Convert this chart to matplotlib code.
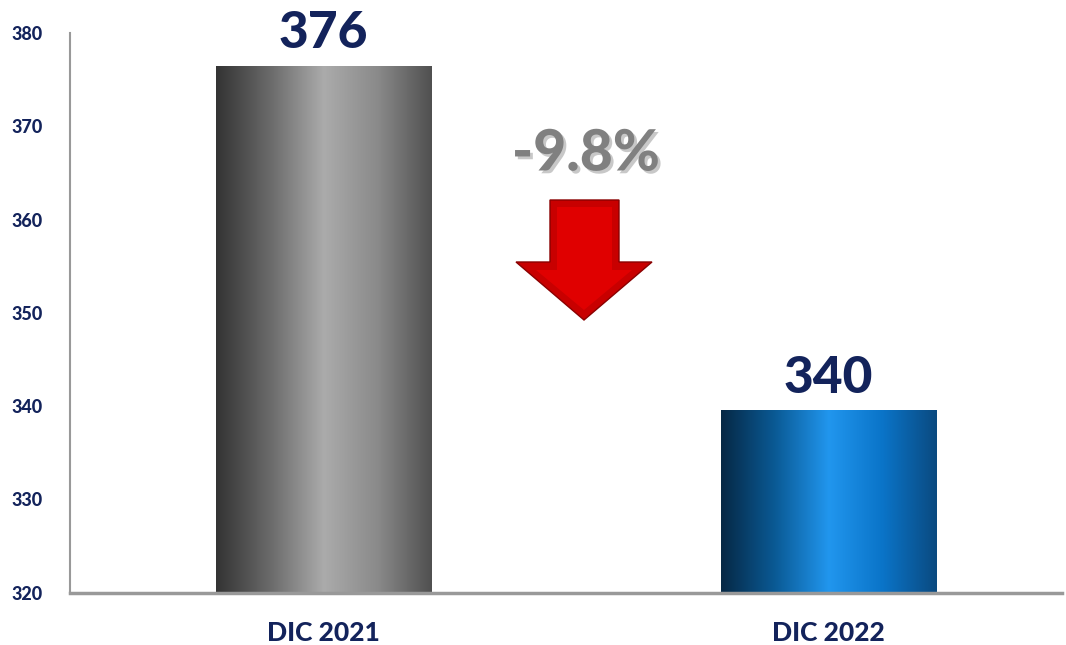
import numpy as np
import matplotlib
matplotlib.use("Agg")
from matplotlib import pyplot as plt
from matplotlib.colors import LinearSegmentedColormap
from matplotlib.patches import Polygon
import matplotlib.patheffects as pe

plt.rcParams['font.family'] = ['Lato', 'DejaVu Sans']

categories = ["DIC 2021", "DIC 2022"]
values = [376.5, 339.6]
value_labels = ["376", "340"]
change_label = "-9.8%"
yticks = [320, 330, 340, 350, 360, 370, 380]

navy = "#13235b"
grey_cm = LinearSegmentedColormap.from_list("g", ["#333333", "#6a6a6a", "#ababab", "#8a8a8a", "#505050"])
blue_cm = LinearSegmentedColormap.from_list("b", ["#062845", "#0a5a95", "#2196ee", "#0a74c8", "#0a4a80"])

fig = plt.figure(figsize=(10.66, 6.45), dpi=100)
ax = fig.add_axes([0.066, 0.081, 0.93, 0.868])

width = 0.426
grad = np.linspace(0, 1, 256).reshape(1, -1)
for i, (v, cm) in enumerate(zip(values, [grey_cm, blue_cm])):
    bars = ax.bar(i, v - 320, bottom=320, width=width, color="none", edgecolor="none")
    im = ax.imshow(grad, cmap=cm, aspect="auto",
                   extent=[i - width / 2, i + width / 2, 320, v], zorder=2)
    im.set_clip_path(bars[0])
    ax.text(i, v + 3.4, value_labels[i], ha="center", va="center",
            fontsize=37, fontweight="black", color=navy)

ax.set_xlim(-0.502, 1.462)
ax.set_ylim(320, 380)
ax.set_xticks(range(len(categories)))
ax.set_xticklabels(categories, fontsize=19, fontweight="black", color=navy)
ax.set_yticks(yticks)
ax.set_yticklabels([str(t) for t in yticks], fontsize=13, fontweight="black", color=navy)
ax.tick_params(length=0)
ax.tick_params(axis="y", pad=20)
ax.tick_params(axis="x", pad=20)
for s in ["top", "right"]:
    ax.spines[s].set_visible(False)
ax.spines["left"].set_color("#999999")
ax.spines["left"].set_linewidth(1.5)
ax.spines["bottom"].set_color("#999999")
ax.spines["bottom"].set_linewidth(2.5)

# change annotation
fig.text(586 / 1066, 1 - 154 / 645, change_label, ha="center", va="center",
         fontsize=41, fontweight="black", color="#808080",
         path_effects=[pe.withSimplePatchShadow(offset=(2, -2), shadow_rgbFace="#bbbbbb", alpha=0.8)])

px = lambda x, y: (x / 1066, 1 - y / 645)
arrow = Polygon([px(550, 200), px(619, 200), px(619, 262), px(652, 262),
                 px(584, 320), px(516, 262), px(550, 262)],
                closed=True, transform=fig.transFigure, facecolor="#c80000",
                edgecolor="#8a0000", linewidth=1)
fig.patches.append(arrow)
inner = Polygon([px(557, 207), px(612, 207), px(612, 270), px(632, 270),
                 px(584, 310), px(536, 270), px(557, 270)],
                closed=True, transform=fig.transFigure, facecolor="#e00000",
                edgecolor="none")
fig.patches.append(inner)

fig.savefig("out.png", dpi=100)
